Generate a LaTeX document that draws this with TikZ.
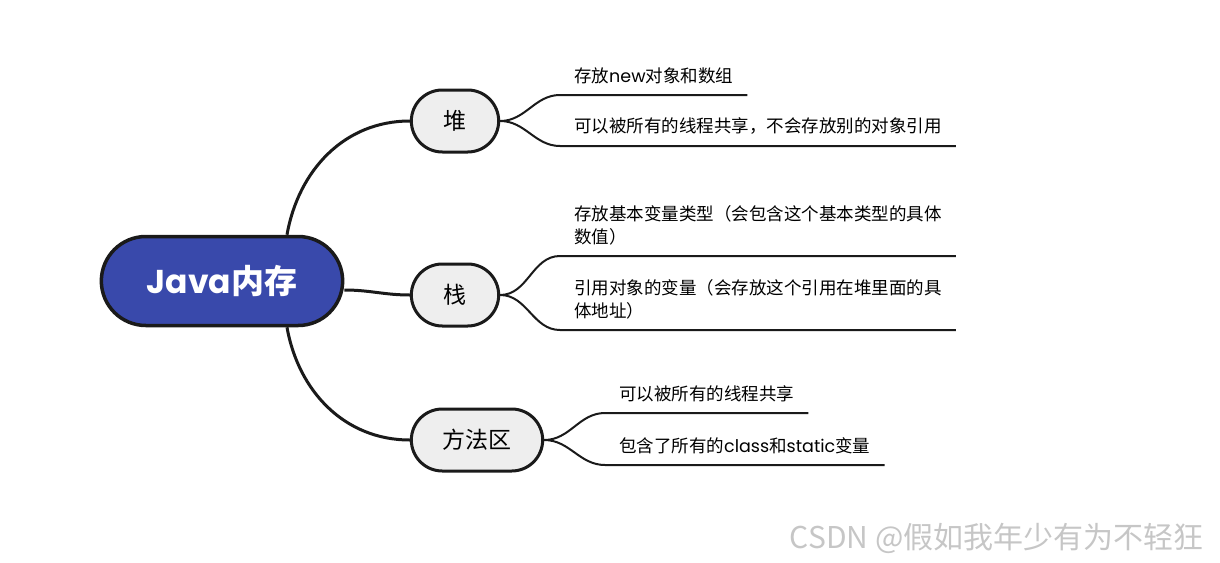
\documentclass[tikz,border=0pt]{standalone}
\usepackage{fontspec}
\setmainfont{Noto Sans CJK SC}
\newfontfamily\latfont{Poppins}
\usetikzlibrary{shapes.misc, positioning}
\definecolor{rootblue}{HTML}{3949AB}
\definecolor{inkline}{HTML}{1A1A1A}
\definecolor{topicgray}{HTML}{EEEEEE}

\begin{document}
\begin{tikzpicture}[x=1pt, y=-1pt,
    root/.style={draw=inkline, line width=3.5pt, fill=rootblue, rounded rectangle,
        minimum width=248pt, minimum height=89pt, text=white,
        font=\fontsize{33}{38}\selectfont\bfseries},
    topic/.style={draw=inkline, line width=3pt, fill=topicgray, rounded rectangle,
        minimum height=62pt, font=\fontsize{23}{27}\selectfont},
    leaf/.style={anchor=south west, inner xsep=14pt, inner ysep=11pt, align=left,
        font=\fontsize{17.5}{23}\selectfont},
    link/.style={draw=inkline, line width=3pt},
    twig/.style={draw=inkline, line width=2pt}]
    \useasboundingbox (0,0) rectangle (1220,562);

    % center and main topics
    \node [root] (mem) at (222,281) {{\latfont Java}内存};
    \node [topic, minimum width=94pt] (dui) at (455,121) {堆};
    \node [topic, minimum width=94pt] (zhan) at (455,295) {栈};
    \node [topic, minimum width=138pt] (ff) at (477,440) {方法区};

    \draw [link] ([xshift=65]mem.north) to[out=80, in=180] (dui);
    \draw [link] ([yshift=-9]mem.east) to[out=0, in=180] (zhan);
    \draw [link] ([xshift=65]mem.south) to[out=-80, in=180] (ff);

    % leaves of each topic
    \node [leaf] (dui1) at (560,95) {存放{\latfont new}对象和数组};
    \node [leaf] (dui2) at (560,146) {可以被所有的线程共享，不会存放别的对象引用};
    \node [leaf] (zhan1) at (560,256) {存放基本变量类型（会包含这个基本类型的具体\\数值）};
    \node [leaf] (zhan2) at (560,330) {引用对象的变量（会存放这个引用在堆里面的具\\体地址）};
    \node [leaf] (ff1) at (605,413) {可以被所有的线程共享};
    \node [leaf] (ff2) at (605,465) {包含了所有的{\latfont class}和{\latfont static}变量};

    \foreach \t/\l in {dui/dui1, dui/dui2, zhan/zhan1, zhan/zhan2, ff/ff1, ff/ff2}
        \draw [twig] (\t) to[out=0, in=180] (\l.south west) -- (\l.south east);

    % watermark
    \node [anchor=east, text=gray!45, font=\fontsize{30}{34}\selectfont] (mark) at (1207,538) {CSDN @假如我年少有为不轻狂};
\end{tikzpicture}
\end{document}
